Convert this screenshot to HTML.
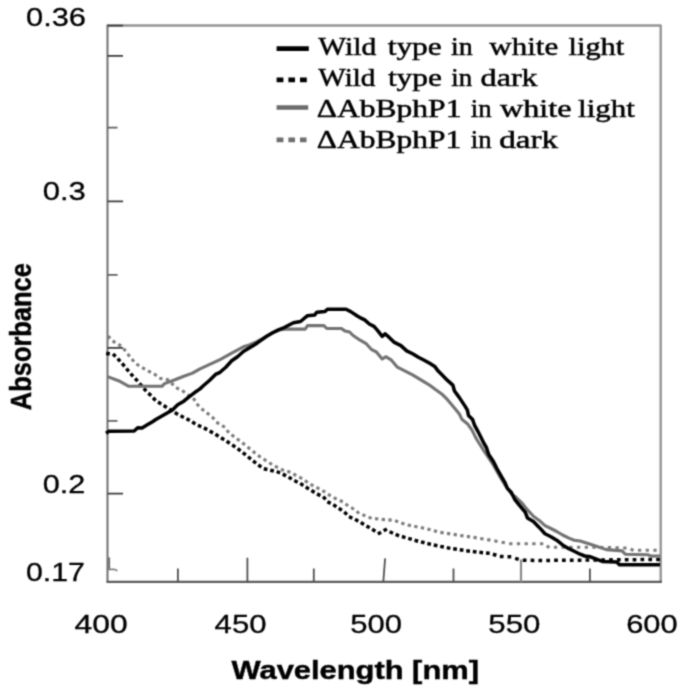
<!DOCTYPE html>
<html><head><meta charset="utf-8"><style>
html,body{margin:0;padding:0;background:#fff;}
svg{display:block;will-change:transform;}
text{font-family:"Liberation Sans",sans-serif;}
</style></head><body>
<svg width="685" height="692" viewBox="0 0 685 692">
<defs><filter id="soft" x="0" y="0" width="685" height="692" filterUnits="userSpaceOnUse" color-interpolation-filters="sRGB"><feConvolveMatrix order="3" kernelMatrix="1 3 1 3 9 3 1 3 1" edgeMode="duplicate"/></filter></defs>
<rect width="685" height="692" fill="#fff"/>
<g filter="url(#soft)">
<rect width="685" height="692" fill="#fff"/>
<g fill="none">
<path d="M107.5,25.5 H660.7 V581.8" stroke="#949494" stroke-width="2.4" stroke-linejoin="round"/>
<path d="M107.5,24.5 V581.8" stroke="#707070" stroke-width="2"/>
<path d="M106.5,581.8 H661.9" stroke="#5a5a5a" stroke-width="2.3"/>
<g stroke-width="1.8">
<path stroke="#3a3a3a" d="M107.5,25.7 H123 M107.5,55.9 H123 M107.5,201.4 H123.1 M107.5,347.9 H123 M107.5,493.6 H123"/>
<path stroke="#606060" d="M107.5,127.7 H117.5 M107.5,274.8 H117.6 M107.5,420.8 H117.5"/>
<path stroke="#6a6a6a" d="M109.2,557.4 V569"/>
<path stroke="#808080" d="M108,569.4 H114 Q116.5,569.6 117.2,571"/>
<path stroke="#505050" d="M177.9,582 V568.4 M247.4,582 V557.8 M313.8,582 V568.4 M383.3,582 L385.1,558.4 M453.5,582 V568.4 M589.9,582 V568.4"/>
<path stroke="#8a8a8a" stroke-width="2.2" d="M521,582 V559.5"/>
</g>
</g>
<g fill="none" stroke-linejoin="round">
<path d="M107.89,336.09L110.25,338.41M112.55,340.94L115.37,342.67M118.27,344.44L121.08,346.16M123.57,348.55L125.58,351.16M127.63,353.87L129.71,356.44M131.85,359.08L133.93,361.64M136.40,364.04L139.23,365.74M142.11,367.54L145.01,369.12M147.99,370.76L150.91,372.30M153.99,373.76L156.69,375.66M159.25,378.15L162.49,378.75M165.84,379.37L169.08,379.97M171.24,382.99L173.69,385.20M176.10,387.64L179.04,389.14M182.15,390.56L184.83,392.48M187.59,394.47L190.27,396.39M193.33,398.10L195.09,400.89M196.70,403.93L199.08,406.21M201.45,408.67L204.06,410.68M206.75,412.76L209.36,414.78M211.92,417.03L214.43,419.16M216.30,422.17L219.14,423.85M222.07,425.58L224.91,427.26M226.85,430.12L228.89,432.71M231.53,434.84L234.17,436.81M236.90,438.85L239.54,440.82M242.27,442.85L244.91,444.83M247.53,446.99L250.11,449.06M252.76,451.18L255.34,453.25M257.96,455.41L260.73,457.21M263.58,459.07L266.34,460.87M269.19,462.72L271.96,464.52M274.93,466.16L277.89,467.62M280.94,469.13L283.89,470.60M287.22,471.36L290.42,472.18M293.35,473.89L296.19,475.57M299.22,477.11L302.17,478.59M304.95,480.54L307.65,482.45M310.55,484.21L313.39,485.90M316.41,487.45L319.36,488.93M322.35,490.55L325.24,492.13M328.00,494.12L330.70,496.03M333.71,497.61L336.64,499.12M339.76,500.47L342.79,501.79M345.47,503.92L348.16,505.83M351.11,507.52L353.95,509.21M356.59,511.36L359.18,513.40M362.39,514.59L365.43,515.86M368.57,517.17L371.62,518.44M375.05,518.64L378.32,519.06M381.70,519.41L385.00,519.65M388.39,519.89L391.68,520.13M395.01,520.66L398.12,521.77M401.32,522.92L404.42,524.03M407.68,524.98L410.92,525.62M414.25,526.29L417.49,526.94M420.82,527.60L424.06,528.25M427.36,529.07L430.56,529.86M433.86,530.67L437.07,531.46M440.35,532.35L443.61,532.86M446.97,533.38L450.24,533.88M453.60,534.40L456.86,534.90M460.22,535.41L463.48,535.90M466.85,536.40L470.11,536.88M473.47,537.38L476.74,537.86M480.23,538.45L483.49,538.99M487.18,539.60L490.43,540.14M494.31,540.85L497.55,541.44M501.63,542.18L504.88,542.77M509.14,543.70L512.44,543.70M516.84,543.70L520.14,543.70M524.54,543.70L527.84,543.70M532.24,543.70L535.54,543.70M539.94,543.70L543.24,543.70M546.87,545.57L549.20,547.90M553.89,547.20L557.19,547.20M561.59,547.20L564.89,547.20M569.29,547.20L572.59,547.20M576.99,547.20L580.29,547.20M584.69,547.20L587.99,547.20M592.39,547.24L595.69,547.31M600.09,547.39L603.39,547.45M607.79,547.53L611.09,547.59M615.49,547.75L618.78,547.88M623.18,548.04L626.48,548.17M630.71,548.82L633.37,550.76M637.95,550.20L641.25,550.20M645.65,550.20L648.95,550.20M653.35,550.20L656.65,550.20" stroke="#7c7c7c" stroke-width="3.1"/>
<path d="M106.18,353.20L109.79,354.03M113.00,354.00L115.61,356.61M117.71,358.62L120.18,361.37M122.16,363.49L124.53,366.33M126.36,368.58L128.78,371.38M130.67,373.58L133.09,376.38M135.10,378.47L137.63,381.17M139.49,383.40L141.91,386.20M143.80,388.40L146.22,391.20M148.39,393.13L151.08,395.67M153.06,397.79L155.60,400.48M158.02,402.06L161.17,404.00M163.63,405.53L166.77,407.49M169.23,409.03L172.37,410.98M174.83,412.51L177.97,414.47M180.55,415.80L183.83,417.51M186.44,418.78L189.77,420.40M192.23,421.92L195.28,424.00M197.86,425.29L201.32,426.59M203.93,427.85L207.16,429.65M209.69,431.07L212.93,432.87M215.43,434.32L218.57,436.28M221.03,437.81L224.17,439.77M226.63,441.31L229.74,443.32M232.17,444.90L235.28,446.91M237.64,448.59L240.55,450.87M242.83,452.66L245.74,454.95M248.00,456.76L250.88,459.09M253.13,460.92L256.00,463.25M258.24,465.10L261.38,467.05M263.79,468.71L267.40,469.53M270.23,470.17L273.84,470.99M276.71,471.49L280.09,472.99M282.78,474.10L286.02,475.88M288.58,477.25L291.80,479.07M294.30,480.55L297.61,482.20M300.25,483.41L303.34,485.45M305.75,487.07L308.92,488.98M311.39,490.48L314.58,492.37M317.03,493.92L320.34,495.57M323.17,496.57L325.60,499.36M327.36,501.73L330.67,503.39M333.29,504.63L336.38,506.67M338.81,508.26L341.83,510.40M344.25,512.01L347.01,514.46M348.99,516.69L352.36,518.22M355.08,519.26L358.27,521.14M360.77,522.60L363.96,524.48M366.46,525.94L369.65,527.82M372.15,529.28L375.35,531.16M377.82,533.93L381.08,532.18M383.63,530.80L386.89,529.04M389.61,531.77L393.01,533.25M395.67,534.40L399.06,535.88M401.91,536.51L405.46,537.56M408.24,538.39L411.79,539.44M414.56,540.29L418.15,541.19M420.96,541.90L424.55,542.80M427.36,543.51L430.95,544.41M433.78,545.06L437.40,545.78M440.25,546.35L443.88,547.08M446.72,547.64L450.35,548.37M453.22,548.78L456.88,549.32M459.75,549.74L463.41,550.28M466.27,550.74L469.95,551.18M472.83,551.53L476.50,551.98M479.38,552.34L483.06,552.70M486.01,552.99L489.69,553.35M492.86,554.21L496.40,555.28M499.85,556.48L503.55,556.60M507.53,556.72L511.23,556.84M515.15,558.35L518.70,559.41M522.77,560.13L526.47,560.22M530.62,560.33L534.32,560.42M538.46,560.53L542.16,560.62M546.31,560.50L550.01,560.43M554.16,560.35L557.86,560.28M562.01,560.20L565.71,560.19M569.86,560.17L573.56,560.16M577.71,560.14L581.41,560.13M585.56,560.12L589.26,560.10M593.41,560.07L597.11,560.03M601.26,559.99L604.96,559.95M609.11,559.91L612.81,559.87M616.96,559.83L620.66,559.79M624.81,559.75L628.51,559.71M632.66,559.67L636.36,559.64M640.51,559.59L644.21,559.56M648.36,559.52L652.06,559.48M656.21,559.44L659.91,559.40" stroke="#000" stroke-width="3.5"/>
<path d="M107.5,376.6 L118.5,380.7 L128.9,386.3 L161.9,386.3 L164.5,383.6 L175.0,379.7 L183.8,376.2 L192.5,373.1 L200.0,368.8 L220.0,359.6 L231.7,353.2 L243.4,346.8 L249.2,345.0 L255.0,342.5 L261.0,339.3 L267.0,336.0 L273.0,332.6 L279.0,330.0 L285.4,329.1 L305.2,329.1 L307.5,325.6 L323.9,325.6 L326.8,328.5 L341.4,328.5 L344.9,330.9 L349.6,332.0 L353.1,335.5 L360.1,340.2 L365.8,343.3 L371.7,349.7 L376.4,352.0 L382.2,359.0 L385.7,356.7 L391.5,360.2 L397.4,367.2 L406.7,371.9 L412.6,374.8 L418.4,378.3 L424.2,381.8 L430.1,385.5 L435.8,389.8 L441.7,393.9 L447.5,399.7 L453.4,406.7 L459.2,413.7 L462.1,419.6 L467.4,423.7 L472.0,430.1 L475.5,437.1 L478.2,441.7 L484.0,451.0 L488.7,458.0 L493.0,464.5 L497.0,471.5 L501.0,478.5 L505.0,485.0 L509.0,490.5 L512.0,494.5 L515.8,497.0 L521.7,502.8 L527.5,509.9 L533.4,516.3 L539.2,520.4 L545.0,525.6 L550.9,528.5 L556.7,531.5 L562.6,535.0 L568.4,537.9 L574.2,540.2 L580.1,541.0 L590.5,544.3 L606.3,549.6 L622.0,550.9 L625.3,554.2 L648.3,554.8 L651.0,556.1 L660.0,556.0" stroke="#737373" stroke-width="3.1"/>
<path d="M106.0,433.2 L109.0,431.3 L134.2,431.0 L137.7,427.8 L142.0,428.0 L147.3,424.8 L152.5,421.7 L155.8,419.5 L166.3,413.4 L172.4,409.9 L177.7,404.7 L183.8,401.2 L189.0,396.8 L194.3,392.8 L200.0,388.9 L203.3,385.8 L209.4,380.5 L215.5,374.4 L220.0,372.3 L225.8,367.2 L231.7,360.8 L237.5,356.7 L243.4,351.5 L249.2,348.0 L255.0,344.5 L260.9,340.4 L266.7,336.3 L272.6,332.8 L278.4,329.9 L284.3,327.5 L290.0,324.5 L293.5,322.7 L300.5,321.5 L307.5,315.7 L314.5,315.1 L316.9,312.2 L325.0,311.6 L327.4,309.3 L346.1,309.3 L350.7,311.6 L357.7,316.3 L360.0,317.6 L364.7,319.9 L369.3,324.0 L374.0,326.4 L377.5,330.4 L382.2,336.3 L385.1,333.9 L389.2,337.4 L393.9,342.1 L400.9,345.6 L406.7,350.9 L412.6,353.8 L418.4,357.3 L424.2,360.2 L430.1,363.6 L434.7,366.4 L438.2,371.1 L441.7,374.6 L447.5,380.4 L452.8,385.1 L454.5,391.0 L459.2,397.4 L465.0,406.1 L467.4,410.2 L468.5,415.5 L472.6,419.6 L474.4,424.8 L477.9,431.3 L481.4,438.3 L484.0,443.5 L486.4,447.5 L488.7,454.5 L493.4,461.5 L496.9,468.5 L501.5,476.7 L505.0,482.6 L507.4,488.4 L511.2,492.3 L514.7,499.3 L519.3,505.2 L525.2,512.2 L527.5,518.0 L533.4,521.5 L539.2,527.4 L545.0,533.8 L550.9,536.7 L556.7,540.2 L562.6,544.9 L568.4,548.4 L574.2,551.3 L580.1,554.2 L584.8,556.0 L590.5,556.8 L602.3,561.4 L616.8,562.0 L619.4,564.7 L660.0,564.7" stroke="#000" stroke-width="3.5"/>
</g>
<g>
<path d="M276.6,48.6 H308.8" stroke="#000" stroke-width="4.6"/>
<path d="M276.6,79.8 H283.4 M288.4,79.8 H295 M300,79.8 H306.8" stroke="#000" stroke-width="4.8"/>
<path d="M276.6,107.5 H308.2" stroke="#6a6a6a" stroke-width="4.4"/>
<path d="M276.6,139.8 H283.4 M288.4,139.8 H295 M300,139.8 H306.5" stroke="#6e6e6e" stroke-width="4.8"/>
</g>
<text transform="translate(25.97,26.00) scale(1.2102,1)" style="font-family:'Liberation Sans',sans-serif;font-weight:normal;font-size:25.5px" fill="#000" stroke="#000" stroke-width="0.3">0.36</text>
<text transform="translate(42.66,200.20) scale(1.2170,1)" style="font-family:'Liberation Sans',sans-serif;font-weight:normal;font-size:25.5px" fill="#000" stroke="#000" stroke-width="0.3">0.3</text>
<text transform="translate(42.67,492.70) scale(1.2036,1)" style="font-family:'Liberation Sans',sans-serif;font-weight:normal;font-size:25.5px" fill="#000" stroke="#000" stroke-width="0.3">0.2</text>
<text transform="translate(25.99,581.00) scale(1.1881,1)" style="font-family:'Liberation Sans',sans-serif;font-weight:normal;font-size:25.5px" fill="#000" stroke="#000" stroke-width="0.3">0.17</text>
<text transform="translate(74.60,632.70) scale(1.2500,1)" style="font-family:'Liberation Sans',sans-serif;font-weight:normal;font-size:25.5px" fill="#000" stroke="#000" stroke-width="0.3">400</text>
<text transform="translate(214.62,632.70) scale(1.2206,1)" style="font-family:'Liberation Sans',sans-serif;font-weight:normal;font-size:25.5px" fill="#000" stroke="#000" stroke-width="0.3">450</text>
<text transform="translate(350.36,632.70) scale(1.2173,1)" style="font-family:'Liberation Sans',sans-serif;font-weight:normal;font-size:25.5px" fill="#000" stroke="#000" stroke-width="0.3">500</text>
<text transform="translate(488.35,632.70) scale(1.2247,1)" style="font-family:'Liberation Sans',sans-serif;font-weight:normal;font-size:25.5px" fill="#000" stroke="#000" stroke-width="0.3">550</text>
<text transform="translate(626.16,632.70) scale(1.2101,1)" style="font-family:'Liberation Sans',sans-serif;font-weight:normal;font-size:25.5px" fill="#000" stroke="#000" stroke-width="0.3">600</text>
<text transform="translate(318.30,54.50) scale(1.1361,1)" style="font-family:'Liberation Serif',serif;font-weight:normal;font-size:26.0px" fill="#000" stroke="#000" stroke-width="0.5">Wild</text>
<text transform="translate(387.69,54.50) scale(1.2065,1)" style="font-family:'Liberation Serif',serif;font-weight:normal;font-size:26.0px" fill="#000" stroke="#000" stroke-width="0.5">type</text>
<text transform="translate(450.94,54.50) scale(1.0790,1)" style="font-family:'Liberation Serif',serif;font-weight:normal;font-size:26.0px" fill="#000" stroke="#000" stroke-width="0.5">in</text>
<text transform="translate(489.30,54.50) scale(1.1925,1)" style="font-family:'Liberation Serif',serif;font-weight:normal;font-size:26.0px" fill="#000" stroke="#000" stroke-width="0.5">white</text>
<text transform="translate(568.59,54.50) scale(1.1677,1)" style="font-family:'Liberation Serif',serif;font-weight:normal;font-size:26.0px" fill="#000" stroke="#000" stroke-width="0.5">light</text>
<text transform="translate(318.30,85.80) scale(1.1223,1)" style="font-family:'Liberation Serif',serif;font-weight:normal;font-size:26.0px" fill="#000" stroke="#000" stroke-width="0.5">Wild</text>
<text transform="translate(387.89,85.80) scale(1.2065,1)" style="font-family:'Liberation Serif',serif;font-weight:normal;font-size:26.0px" fill="#000" stroke="#000" stroke-width="0.5">type</text>
<text transform="translate(451.36,85.80) scale(1.0325,1)" style="font-family:'Liberation Serif',serif;font-weight:normal;font-size:26.0px" fill="#000" stroke="#000" stroke-width="0.5">in</text>
<text transform="translate(480.58,85.80) scale(1.2356,1)" style="font-family:'Liberation Serif',serif;font-weight:normal;font-size:26.0px" fill="#000" stroke="#000" stroke-width="0.5">dark</text>
<text transform="translate(316.64,117.40) scale(1.2138,1)" style="font-family:'Liberation Serif',serif;font-weight:normal;font-size:26.0px" fill="#000" stroke="#000" stroke-width="0.5">&#916;AbBphP1</text>
<text transform="translate(470.76,117.40) scale(1.0325,1)" style="font-family:'Liberation Serif',serif;font-weight:normal;font-size:26.0px" fill="#000" stroke="#000" stroke-width="0.5">in</text>
<text transform="translate(499.90,117.40) scale(1.2399,1)" style="font-family:'Liberation Serif',serif;font-weight:normal;font-size:26.0px" fill="#000" stroke="#000" stroke-width="0.5">white</text>
<text transform="translate(578.08,117.40) scale(1.1933,1)" style="font-family:'Liberation Serif',serif;font-weight:normal;font-size:26.0px" fill="#000" stroke="#000" stroke-width="0.5">light</text>
<text transform="translate(316.84,148.10) scale(1.2104,1)" style="font-family:'Liberation Serif',serif;font-weight:normal;font-size:26.0px" fill="#000" stroke="#000" stroke-width="0.5">&#916;AbBphP1</text>
<text transform="translate(470.76,148.10) scale(1.0325,1)" style="font-family:'Liberation Serif',serif;font-weight:normal;font-size:26.0px" fill="#000" stroke="#000" stroke-width="0.5">in</text>
<text transform="translate(499.14,148.10) scale(1.2776,1)" style="font-family:'Liberation Serif',serif;font-weight:normal;font-size:26.0px" fill="#000" stroke="#000" stroke-width="0.5">dark</text>
<text transform="translate(231.50,678.60) scale(1.2352,1)" style="font-family:'Liberation Sans',sans-serif;font-weight:bold;font-size:25px" fill="#000" stroke="#000" stroke-width="0.4">Wavelength [nm]</text>
<text transform="translate(30.80,410.14) rotate(-90) scale(0.9975,1.1500)" style="font-family:'Liberation Sans',sans-serif;font-weight:bold;font-size:25.5px" fill="#000" stroke="#000" stroke-width="0.4">Absorbance</text>
</g>
</svg>
</body></html>
